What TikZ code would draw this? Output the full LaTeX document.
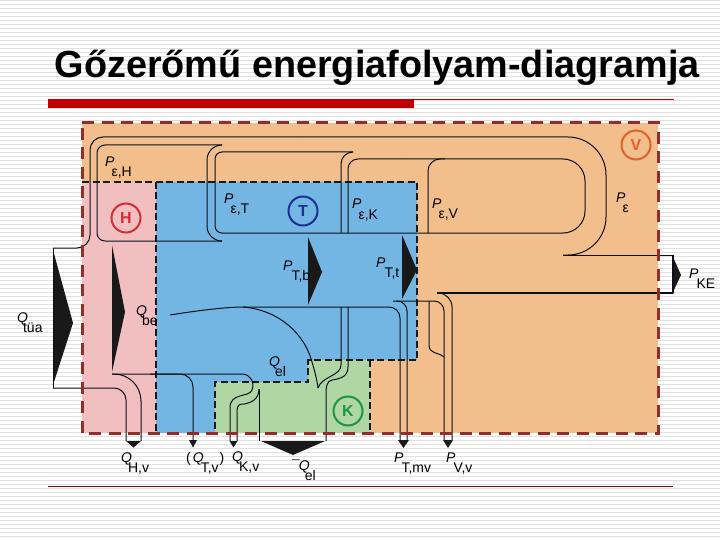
\documentclass[tikz,border=0pt]{standalone}
\usepackage{fontspec}
\setmainfont{Liberation Sans}
\definecolor{cOut}{HTML}{8E2F2B}
\definecolor{cOrange}{HTML}{F1BE8C}
\definecolor{cPink}{HTML}{F2BFC0}
\definecolor{cBlue}{HTML}{74B6E3}
\definecolor{cGreen}{HTML}{B0D6A4}
\definecolor{cBar}{HTML}{C00000}
\definecolor{cLine}{HTML}{0A0F1A}
\definecolor{cUnitH}{HTML}{CE2F37}
\definecolor{cUnitT}{HTML}{1D2F8F}
\definecolor{cUnitV}{HTML}{E0622A}
\definecolor{cUnitK}{HTML}{1A9545}
\newcommand{\flab}[3][-3pt]{\textit{#2}\kern#1\raisebox{-10pt}{#3}}
\tikzset{
  flow/.style={draw=cLine,line width=1pt,line join=round},
  tri/.style={fill=black!90,draw=none},
  inner/.style={draw=black!90,line width=2.1pt,dash pattern=on 7pt off 3.5pt},
  outer/.style={draw=cOut,line width=3pt,dash pattern=on 12pt off 7.5pt},
  lab/.style={anchor=base west,inner sep=0pt,font=\fontsize{14}{14}\selectfont},
  unit/.style={circle,draw=#1,text=#1,line width=2pt,minimum size=29pt,inner sep=0pt,font=\fontsize{16}{16}\selectfont\bfseries}
}
\begin{document}
\begin{tikzpicture}[x=1pt,y=-1pt]
\useasboundingbox (0,0) rectangle (720,540);
\fill[white] (0,0) rectangle (720,540);
\foreach \k in {0,...,134} \draw[black!12,line width=1.2pt] (0,4*\k+0.5) -- (720,4*\k+0.5);
% title
\node[anchor=base west,inner sep=0pt,font=\fontsize{37.8}{38}\selectfont\bfseries] (title) at (54.5,78) {Gőzerőmű energiafolyam-diagramja};
\fill[cBar] (48,99) rectangle (414,108);
\draw[cBar,line width=0.8pt] (414,99.5) -- (674,99.5);
\draw[cBar!80!black,line width=0.8pt] (48,486.5) -- (673,486.5);
% regions
\fill[cOrange] (82,123) rectangle (658,433);
\fill[cPink] (82,182) rectangle (156,433);
\fill[cBlue] (156,182) -- (417,182) -- (417,360) -- (308,360) -- (308,382) -- (215,382) -- (215,433) -- (156,433) -- cycle;
\fill[cGreen] (215,382) -- (308,382) -- (308,360) -- (370,360) -- (370,433) -- (215,433) -- cycle;
% inner boundaries
\draw[inner] (82,182) -- (417,182) -- (417,360) -- (308,360) -- (308,382) -- (215,382) -- (215,433);
\draw[inner] (156,182) -- (156,433);
\draw[inner] (370,360) -- (370,433);
% triangles
\fill[tri] (53,250) -- (73,323) -- (53,385) -- cycle;
\fill[tri] (112,245) -- (125,312) -- (112,372) -- cycle;
\fill[tri] (308,237) -- (322,272) -- (308,305) -- cycle;
\fill[tri] (402,235) -- (417,270) -- (402,299) -- cycle;
\fill[tri] (673,257) -- (681,275) -- (673,292) -- cycle;
\fill[tri] (261,441) -- (325,441) -- (293,455) -- cycle;
\fill[tri] (126,441) -- (141,441) -- (133.5,447.5) -- cycle;
\fill[tri] (189,440) -- (197,440) -- (193,447.5) -- cycle;
\fill[tri] (229.5,441) -- (237.5,441) -- (233.5,447.5) -- cycle;
\fill[tri] (398,440) -- (409,440) -- (403.5,448) -- cycle;
\fill[tri] (443,440) -- (453,440) -- (448,448) -- cycle;
% main stream
\draw[flow] (53,248) -- (53,388);
\draw[flow,rounded corners=13pt] (53,248) -- (90,248) -- (90,137) -- (300,137);
\draw[flow,rounded corners=38pt] (300,137) -- (606,137) -- (606,255) -- (563,255);
\draw[flow] (563,255) -- (673,255);
\draw[flow,rounded corners=8pt] (222,145) -- (97,145) -- (97,241) -- (222,241);
\draw[flow,rounded corners=15pt] (222,145) -- (207,145) -- (207,241) -- (222,241);
\draw[flow,rounded corners=7pt] (353,152) -- (215,152) -- (215,233) -- (300,233);
\draw[flow,rounded corners=12pt] (353,152) -- (341,152) -- (341,233);
\draw[flow,rounded corners=10pt] (348,233) -- (348,159) -- (400,159);
\draw[flow,rounded corners=12pt] (428,233) -- (428,159) -- (445,159);
\draw[flow,rounded corners=22pt] (300,233) -- (585,233) -- (585,159) -- (400,159);
% kinetic energy and friction outputs
\draw[flow,line width=1.6pt] (673,255) -- (673,293) -- (437,293);
\draw[flow,rounded corners=14pt] (437,293) -- (452,293) -- (452,440);
\draw[flow,rounded corners=10pt] (393,301) -- (444,301) -- (444,440);
\draw[flow,rounded corners=10pt] (396,301) -- (407,301) -- (407,440);
\draw[flow] (429,301) -- (429,345) .. controls (429,354) and (438,352) .. (444,357);
\draw[flow,rounded corners=11pt] (243,307) -- (400,307) -- (400,440);
\draw[flow] (170,315) .. controls (195,311) and (225,307) .. (243,307) .. controls (280,310) and (305,335) .. (312,362) .. controls (315,372) and (317,380) .. (318,388);
% heat outputs
\draw[flow,rounded corners=12pt] (53,388) -- (126,388) -- (126,441);
\draw[flow,rounded corners=27pt] (112,374) -- (141,374) -- (141,441);
\draw[flow,rounded corners=13pt] (150,374) -- (193,374) -- (193,441);
\draw[flow] (112,374) -- (242,374) .. controls (250,374) and (255,382) .. (252,390) .. controls (249,398) and (230,392) .. (230,408) -- (230,441);
\draw[flow] (259,389) .. controls (259,400) and (250,403) .. (244,404) .. controls (240,404) and (237,404) .. (237,412) -- (237,441);
\draw[flow] (259,389) -- (259,441);
\draw[flow] (341,307) -- (341,365) .. controls (341,376) and (322,376) .. (318,388);
\draw[flow] (348,307) -- (348,367) .. controls (348,378) and (338,379) .. (332,380) .. controls (327,381) and (326,386) .. (326,395) -- (326,441);
% outer boundary
\draw[outer] (82,123) -- (658,123) -- (658,433) -- (82,433) -- cycle;
% units
\node[unit=cUnitH] (uH) at (126,218) {H};
\node[unit=cUnitT] (uT) at (303,211) {T};
\node[unit=cUnitV] (uV) at (636,145) {V};
\node[unit=cUnitK] (uK) at (348,411) {K};
% labels
\node[lab] (pH) at (105,167) {\flab{P}{ε,H}};
\node[lab] (pT) at (224,204) {\flab{P}{ε,T}};
\node[lab] (pK) at (352,209) {\flab{P}{ε,K}};
\node[lab] (pV) at (432,208) {\flab{P}{ε,V}};
\node[lab] (pE) at (616,203) {\flab{P}{ε}};
\node[lab] (pTb) at (283,270) {\flab[-1pt]{P}{T,b}};
\node[lab] (pTt) at (376,267) {\flab[-1pt]{P}{T,t}};
\node[lab] (pKE) at (689,278) {\flab[-2pt]{P}{KE}};
\node[lab] (qT) at (17,322) {\flab[-5pt]{Q}{tüa}};
\node[lab] (qB) at (136,315) {\flab[-5pt]{Q}{be}};
\node[lab] (qH) at (121,462) {\flab[-4pt]{Q}{H,v}};
\node[lab] (qTv) at (186,462) {(\kern2pt\flab[-3pt]{Q}{T,v}\kern1pt)};
\node[lab] (qK) at (232,461) {\flab[-4pt]{Q}{K,v}};
\node[lab] (qE) at (269,366) {\flab[-5pt]{Q}{el}};
\node[lab] (qM) at (292,470) {¯\kern-1pt\flab[-5pt]{Q}{el}};
\node[lab] (pM) at (394,462) {\flab[-2pt]{P}{T,mv}};
\node[lab] (pVv) at (446,462) {\flab[-2pt]{P}{V,v}};
\end{tikzpicture}
\end{document}
